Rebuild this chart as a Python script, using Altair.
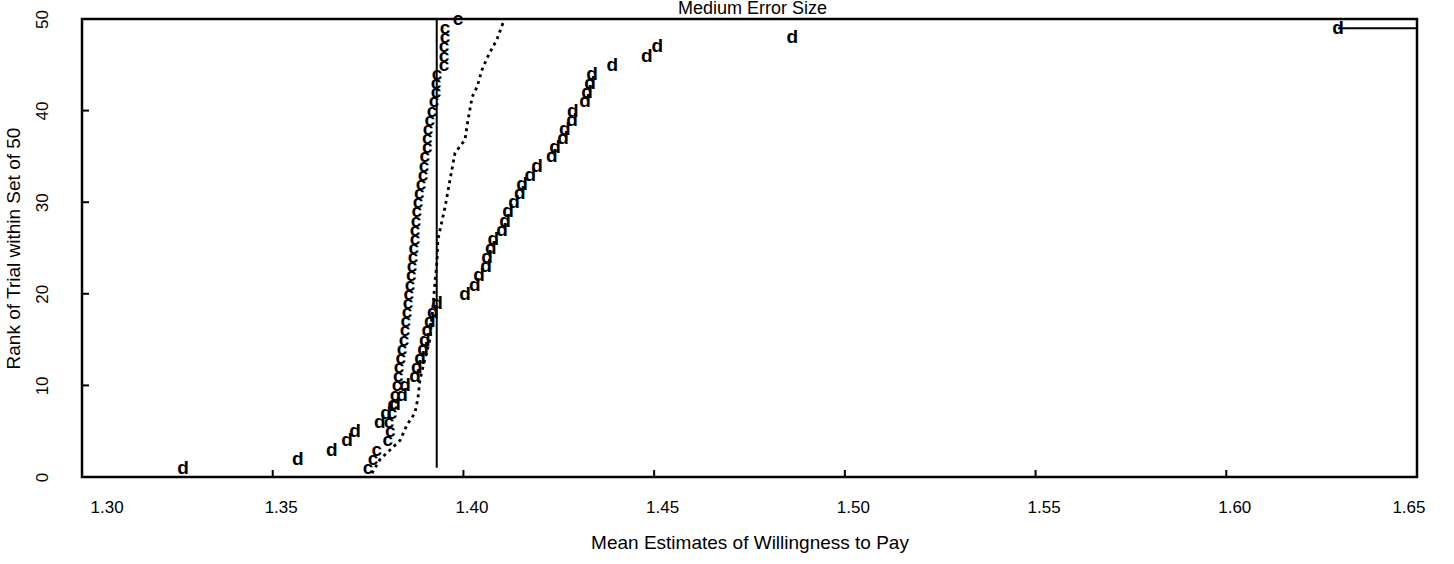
import altair as alt
import pandas as pd

# ---- data ----
c_rank = list(range(1, 51))
c_x = [1.3750, 1.3763, 1.3773, 1.3802, 1.3808, 1.3805, 1.3813, 1.3815, 1.3821, 1.3826,
       1.3829, 1.3831, 1.3836, 1.3839, 1.3844, 1.3847, 1.3849, 1.3852, 1.3855, 1.3857,
       1.3860, 1.3863, 1.3865, 1.3868, 1.3870, 1.3873, 1.3873, 1.3876, 1.3878, 1.3881,
       1.3884, 1.3889, 1.3894, 1.3897, 1.3899, 1.3905, 1.3905, 1.3907, 1.3912, 1.3918,
       1.3923, 1.3928, 1.3928, 1.3931, 1.3949, 1.3949, 1.3949, 1.3952, 1.3952, 1.3986]

d_rank = list(range(1, 50))
d_x = [1.3265, 1.3566, 1.3655, 1.3695, 1.3716, 1.3781, 1.3797, 1.3821, 1.3839, 1.3847,
       1.3873, 1.3878, 1.3886, 1.3894, 1.3899, 1.3905, 1.3912, 1.3920, 1.3931, 1.4004,
       1.4030, 1.4041, 1.4059, 1.4062, 1.4072, 1.4078, 1.4101, 1.4109, 1.4117, 1.4133,
       1.4148, 1.4154, 1.4175, 1.4193, 1.4232, 1.4240, 1.4261, 1.4266, 1.4285, 1.4287,
       1.4319, 1.4324, 1.4332, 1.4337, 1.4390, 1.4481, 1.4508, 1.4862, 1.6293]

dot_x = [1.3760, 1.3781, 1.3834, 1.3852, 1.3873, 1.3881, 1.3886, 1.3894, 1.3912, 1.3920,
         1.3926, 1.3931, 1.3933, 1.3952, 1.3965, 1.3978, 1.3991, 1.4004, 1.4012, 1.4023,
         1.4036, 1.4049, 1.4064, 1.4088, 1.4104]
dot_y = [0.4, 1.9, 4.0, 5.7, 7.0, 8.7, 10.6, 12.0, 15.0, 18.6,
         21.5, 23.7, 25.9, 29.5, 32.5, 35.4, 36.1, 36.8, 39.0, 41.5,
         42.6, 44.5, 45.9, 47.8, 49.6]

true_value = 1.393
true_span = [1, 50]
tail_x = [1.6293, 1.65]
tail_y = 49

x_ticks = [1.30, 1.35, 1.40, 1.45, 1.50, 1.55, 1.60, 1.65]
y_ticks = [0, 10, 20, 30, 40, 50]
title_text = "Medium Error Size"

FONT = "Liberation Sans"
W, H = 1335, 458

c_df = pd.DataFrame({"x": c_x, "y": c_rank})
d_df = pd.DataFrame({"x": d_x, "y": d_rank})
dot_df = pd.DataFrame({"x": dot_x, "y": dot_y, "o": list(range(len(dot_x)))})
true_df = pd.DataFrame({"x": [true_value], "y": [true_span[0]], "y2": [true_span[1]]})
tail_df = pd.DataFrame({"x": [tail_x[0]], "x2": [tail_x[1]], "y": [tail_y]})
xt_df = pd.DataFrame({"x": x_ticks})
yt_df = pd.DataFrame({"y": y_ticks})
title_df = pd.DataFrame({"t": [title_text]})

xscale = alt.Scale(domain=[1.30, 1.65], nice=False, zero=False)
yscale = alt.Scale(domain=[0, 50], nice=False, zero=True)

xaxis = alt.Axis(values=x_ticks, format=".2f", title="Mean Estimates of Willingness to Pay",
                 grid=False, ticks=False, tickSize=0, domain=False,
                 labelFont=FONT, labelFontSize=17, labelColor="black", labelPadding=22,
                 labelOffset=8,
                 titleFont=FONT, titleFontSize=19, titleFontWeight="normal", titleColor="black",
                 titlePadding=18)
yaxis = alt.Axis(values=y_ticks, format="d", title="Rank of Trial within Set of 50",
                 grid=False, ticks=False, tickSize=0, domain=False,
                 labelFont=FONT, labelFontSize=17, labelColor="black", labelPadding=31,
                 labelAngle=270, labelAlign="center", labelBaseline="bottom",
                 titleFont=FONT, titleFontSize=19, titleFontWeight="normal", titleColor="black",
                 titlePadding=10)

base_x = alt.X("x:Q", scale=xscale, axis=xaxis)
base_y = alt.Y("y:Q", scale=yscale, axis=yaxis)

c_layer = alt.Chart(c_df).mark_text(text="c", font=FONT, fontSize=19, fontWeight="bold",
                                    color="black", baseline="middle", align="center").encode(
    x=base_x, y=base_y)
d_layer = alt.Chart(d_df).mark_text(text="d", font=FONT, fontSize=19, fontWeight="bold",
                                    color="black", baseline="middle", align="center").encode(
    x="x:Q", y="y:Q")
dot_layer = alt.Chart(dot_df).mark_line(color="black", strokeWidth=2.8, strokeDash=[3, 4]).encode(
    x="x:Q", y="y:Q", order="o:Q")
true_layer = alt.Chart(true_df).mark_rule(color="black", strokeWidth=2).encode(
    x="x:Q", y="y:Q", y2="y2:Q")
tail_layer = alt.Chart(tail_df).mark_rule(color="black", strokeWidth=2).encode(
    x="x:Q", x2="x2:Q", y="y:Q")
xtick_layer = alt.Chart(xt_df).mark_rule(color="black", strokeWidth=2).encode(
    x="x:Q", y=alt.value(H), y2=alt.value(H - 7))
ytick_layer = alt.Chart(yt_df).mark_rule(color="black", strokeWidth=2).encode(
    y="y:Q", x=alt.value(0), x2=alt.value(7))
title_layer = alt.Chart(title_df).mark_text(font=FONT, fontSize=18, color="black",
                                            baseline="alphabetic", align="center").encode(
    text="t:N", x=alt.value(W / 2 + 3), y=alt.value(-5))

chart = alt.layer(c_layer, d_layer, dot_layer, true_layer, tail_layer, xtick_layer, ytick_layer,
                  title_layer).properties(
    width=W, height=H,
    background="white",
    autosize=alt.AutoSizeParams(type="none"),
    padding={"left": 82, "top": 19, "right": 37, "bottom": 87},
).configure_view(stroke="black", strokeWidth=2.5)

chart.save("out.html", embed_options={"renderer": "svg", "actions": False})
